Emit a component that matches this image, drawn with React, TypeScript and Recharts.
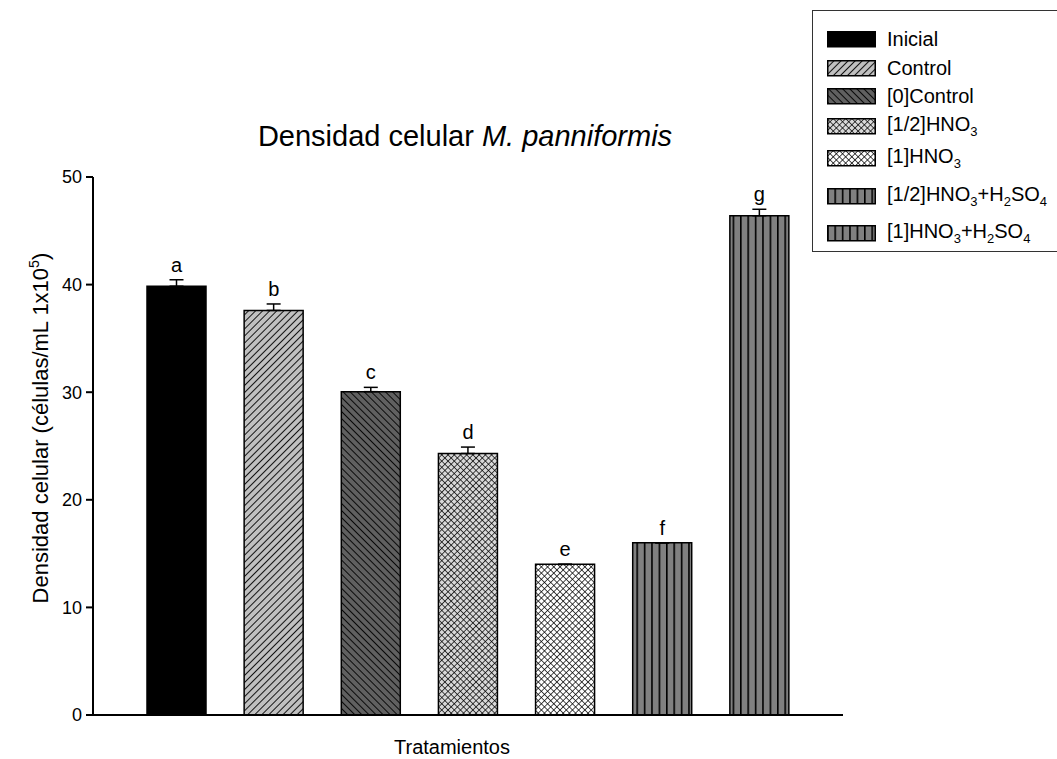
import React from "react";
import { ComposedChart, Bar, Line, XAxis, YAxis, ErrorBar, Cell, LabelList } from "recharts";

const treatments = [
  "Inicial",
  "Control",
  "[0]Control",
  "[1/2]HNO3",
  "[1]HNO3",
  "[1/2]HNO3+H2SO4",
  "[1]HNO3+H2SO4",
];
const density = [39.85, 37.6, 30.05, 24.3, 14.0, 16.0, 46.4];
const errors = [0.6, 0.6, 0.4, 0.6, 0, 0, 0.6];
const letters = ["a", "b", "c", "d", "e", "f", "g"];
const yTicks = [0, 10, 20, 30, 40, 50];

const fills = [
  "#000000",
  "url(#pControl)",
  "url(#pZero)",
  "url(#pHalf)",
  "url(#pOne)",
  "url(#pStripe)",
  "url(#pStripe)",
];

const chartData = treatments.map((t, i) => ({
  name: t,
  value: density[i],
  err: [0, errors[i]],
  top: density[i] + errors[i],
  letter: letters[i],
}));

const FONT = '"Liberation Sans", Arial, sans-serif';

function Patterns() {
  return (
    <defs>
      <pattern id="pControl" patternUnits="userSpaceOnUse" width="5" height="5" patternTransform="rotate(45)">
        <rect width="5" height="5" fill="#c0c0c0" />
        <line x1="0" y1="0" x2="0" y2="5" stroke="#000" strokeWidth="1.8" />
      </pattern>
      <pattern id="pZero" patternUnits="userSpaceOnUse" width="5" height="5" patternTransform="rotate(-45)">
        <rect width="5" height="5" fill="#606060" />
        <line x1="0" y1="0" x2="0" y2="5" stroke="#000" strokeWidth="1.8" />
      </pattern>
      <pattern id="pHalf" patternUnits="userSpaceOnUse" width="4.4" height="4.4" patternTransform="rotate(45)">
        <rect width="4.4" height="4.4" fill="#d8d8d8" />
        <line x1="0" y1="0" x2="0" y2="4.4" stroke="#000" strokeWidth="1.4" />
        <line x1="0" y1="0" x2="4.4" y2="0" stroke="#000" strokeWidth="1.4" />
      </pattern>
      <pattern id="pOne" patternUnits="userSpaceOnUse" width="4.4" height="4.4" patternTransform="rotate(45)">
        <rect width="4.4" height="4.4" fill="#ffffff" />
        <line x1="0" y1="0" x2="0" y2="4.4" stroke="#000" strokeWidth="1.4" />
        <line x1="0" y1="0" x2="4.4" y2="0" stroke="#000" strokeWidth="1.4" />
      </pattern>
      <pattern id="pStripe" patternUnits="userSpaceOnUse" width="7.4" height="10">
        <rect width="7.4" height="10" fill="#808080" />
        <line x1="0.8" y1="0" x2="0.8" y2="10" stroke="#000" strokeWidth="1.6" />
      </pattern>
    </defs>
  );
}

// subscript digits that follow an element symbol (HNO3, H2SO4)
function renderFormula(t: string) {
  const out: React.ReactNode[] = [];
  let buf = "";
  for (let i = 0; i < t.length; i++) {
    const ch = t[i];
    const prev = t[i - 1];
    if (/\d/.test(ch) && prev && /[A-Z]/.test(prev)) {
      out.push(buf);
      buf = "";
      out.push(<sub key={i} style={{ fontSize: "0.65em", verticalAlign: "-0.35em" }}>{ch}</sub>);
    } else {
      buf += ch;
    }
  }
  out.push(buf);
  return out;
}

function LegendBox() {
  const rows = [38, 67, 95, 125, 157, 195, 232];
  return (
    <div
      style={{
        position: "absolute",
        left: 812,
        top: 10,
        width: 260,
        height: 242,
        border: "1px solid #333",
        boxSizing: "border-box",
        fontFamily: FONT,
        fontSize: 20,
      }}
    >
      {treatments.map((t, i) => (
        <div
          key={t}
          style={{ position: "absolute", left: 0, top: rows[i] - 10 - 14, height: 28, display: "flex", alignItems: "center" }}
        >
          <svg width={50} height={17} style={{ marginLeft: 14 }}>
            <rect x={0.75} y={0.75} width={47.5} height={15} fill={fills[i]} stroke="#000" strokeWidth={1.5} />
          </svg>
          <span style={{ marginLeft: 10, whiteSpace: "nowrap" }}>{renderFormula(t)}</span>
        </div>
      ))}
    </div>
  );
}

export default function App() {
  return (
    <div style={{ position: "absolute", left: 0, top: 0, width: 1057, height: 759, background: "#fff", overflow: "hidden" }}>
      <ComposedChart
        width={1057}
        height={759}
        data={chartData}
        margin={{ top: 177, right: 214, bottom: 0, left: 0 }}
      >
        <Patterns />
        <XAxis
          dataKey="name"
          tick={false}
          tickLine={false}
          height={44}
          padding={{ left: 35, right: 35 }}
          axisLine={{ stroke: "#000", strokeWidth: 2 }}
        />
        <YAxis
          domain={[0, 50]}
          ticks={yTicks}
          width={93}
          tickSize={7}
          tickMargin={4}
          interval={0}
          axisLine={{ stroke: "#000", strokeWidth: 2 }}
          tickLine={{ stroke: "#000", strokeWidth: 2 }}
          tick={{ fill: "#000", fontSize: 18, fontFamily: FONT }}
        />
        <Bar dataKey="value" barSize={59} stroke="#000" strokeWidth={1.5} isAnimationActive={false}>
          {chartData.map((d, i) => (
            <Cell key={d.name} fill={fills[i]} />
          ))}
          <ErrorBar dataKey="err" width={7} stroke="#000" strokeWidth={1.5} direction="y" />
        </Bar>
        <Line dataKey="top" stroke="none" dot={false} activeDot={false} isAnimationActive={false}>
          <LabelList dataKey="letter" position="top" offset={8} fill="#000" fontSize={20} fontFamily={FONT} />
        </Line>
      </ComposedChart>
      <div
        style={{
          position: "absolute",
          left: 465,
          top: 120,
          transform: "translateX(-50%)",
          whiteSpace: "nowrap",
          fontFamily: FONT,
          fontSize: 29,
          lineHeight: "32px",
        }}
      >
        Densidad celular <i>M. panniformis</i>
      </div>
      <div
        style={{
          position: "absolute",
          left: 452,
          top: 735,
          transform: "translateX(-50%)",
          fontFamily: FONT,
          fontSize: 20,
          lineHeight: "24px",
          whiteSpace: "nowrap",
        }}
      >
        Tratamientos
      </div>
      <div
        style={{
          position: "absolute",
          left: 40,
          top: 428,
          transform: "translate(-50%, -50%) rotate(-90deg)",
          fontFamily: FONT,
          fontSize: 22,
          whiteSpace: "nowrap",
        }}
      >
        Densidad celular (células/mL 1x10<sup style={{ fontSize: "0.65em", verticalAlign: "0.6em" }}>5</sup>)
      </div>
      <LegendBox />
    </div>
  );
}
